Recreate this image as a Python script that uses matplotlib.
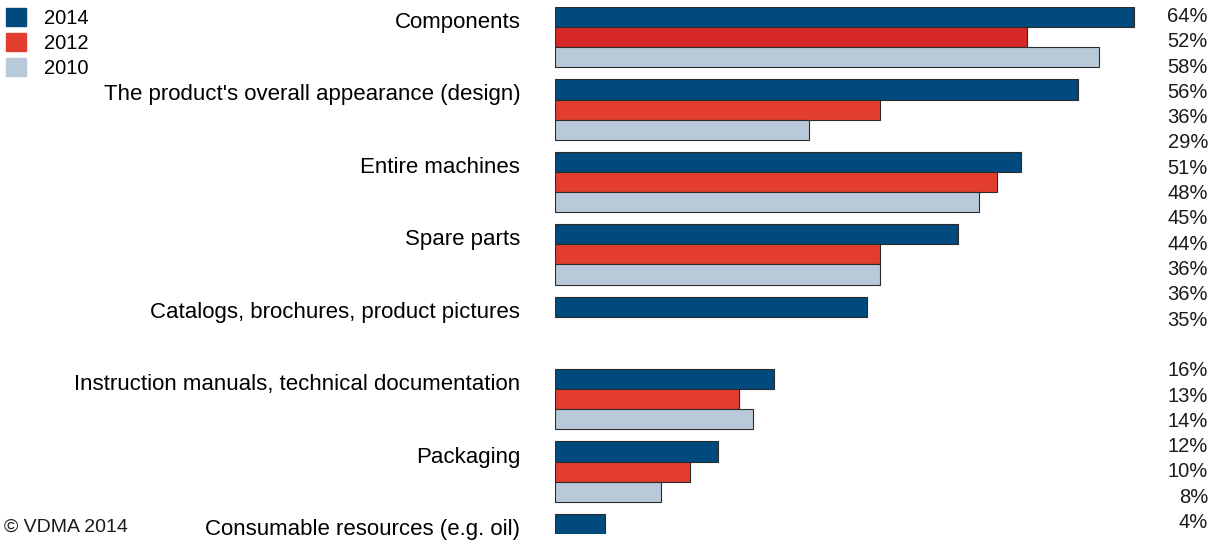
import matplotlib

matplotlib.use("Agg")
import matplotlib.pyplot as plt  # noqa: E402
import numpy as np  # noqa: E402

plt.rcParams["font.family"] = ["Liberation Sans", "DejaVu Sans"]

# chart data
categories = [
    "Components",
    "The product's overall appearance (design)",
    "Entire machines",
    "Spare parts",
    "Catalogs, brochures, product pictures",
    "Instruction manuals, technical documentation",
    "Packaging",
    "Consumable resources (e.g. oil)",
]
years = ["2014", "2012", "2010"]
# bar lengths as drawn (percent); None = no bar for that year
bars_2014 = [64.0, 57.8, 51.5, 44.5, 34.5, 24.2, 18.0, 5.5]
bars_2012 = [52.2, 35.9, 48.8, 35.9, None, 20.3, 14.9, None]
bars_2010 = [60.1, 28.1, 46.9, 35.9, None, 21.9, 11.7, None]
# value labels as printed in the right column
value_labels = [
    "64%", "52%", "58%", "56%", "36%", "29%", "51%", "48%", "45%", "44%",
    "36%", "36%", "35%", "16%", "13%", "14%", "12%", "10%", "8%", "4%",
]

colors = ["#014a7e", "#e33d2f", "#b8c9d9"]
first_2012_color = "#d72727"

W, H = 1212, 548
fig = plt.figure(figsize=(W / 100, H / 100), dpi=100)
ax = fig.add_axes([555 / W, (H - 534) / H, 590 / W, 527 / H])

group_pitch = 3.6
series = [bars_2014, bars_2012, bars_2010]
handles = []
for j, (vals, col) in enumerate(zip(series, colors)):
    ys, xs, cs = [], [], []
    for i, v in enumerate(vals):
        if v is None:
            continue
        ys.append(i * group_pitch + j)
        xs.append(v)
        cs.append(first_2012_color if (j == 1 and i == 0) else col)
    ax.barh(ys, xs, height=1.0, color=cs, edgecolor="#2b2b2b",
            linewidth=0.8, label=years[j])
    handles.append(plt.Rectangle((0, 0), 1, 1, color=col))

ax.set_xlim(0, 590 / 9.05)
ax.set_ylim(7 * group_pitch + 0.5, -0.5)
ax.set_yticks(np.arange(len(categories)) * group_pitch + 0.15)
ax.set_yticklabels(categories, fontsize=16, color="#000000")
ax.tick_params(axis="y", length=0, pad=25)
ax.set_xticks([])
for s in ax.spines.values():
    s.set_visible(False)

# value column on the right
slots = list(range(13)) + list(range(14, 21))
for slot, lab in zip(slots, value_labels):
    y = 1 - (16.5 + slot * 25.3) / H
    fig.text(1208 / W, y, lab, ha="right", va="center", fontsize=14.5,
             color="#1a1a1a")

fig.legend(handles, years, loc="upper left", bbox_to_anchor=(2 / W, 1 - 4 / H),
           frameon=False, fontsize=14.5, handlelength=1.0, handleheight=1.0,
           handletextpad=0.9, labelspacing=0.25, borderpad=0.2, borderaxespad=0)

fig.text(4 / W, 1 - 527 / H, "\u00a9 VDMA 2014", ha="left", va="center",
         fontsize=14, color="#1a1a1a")

fig.savefig("out.png", dpi=100)
